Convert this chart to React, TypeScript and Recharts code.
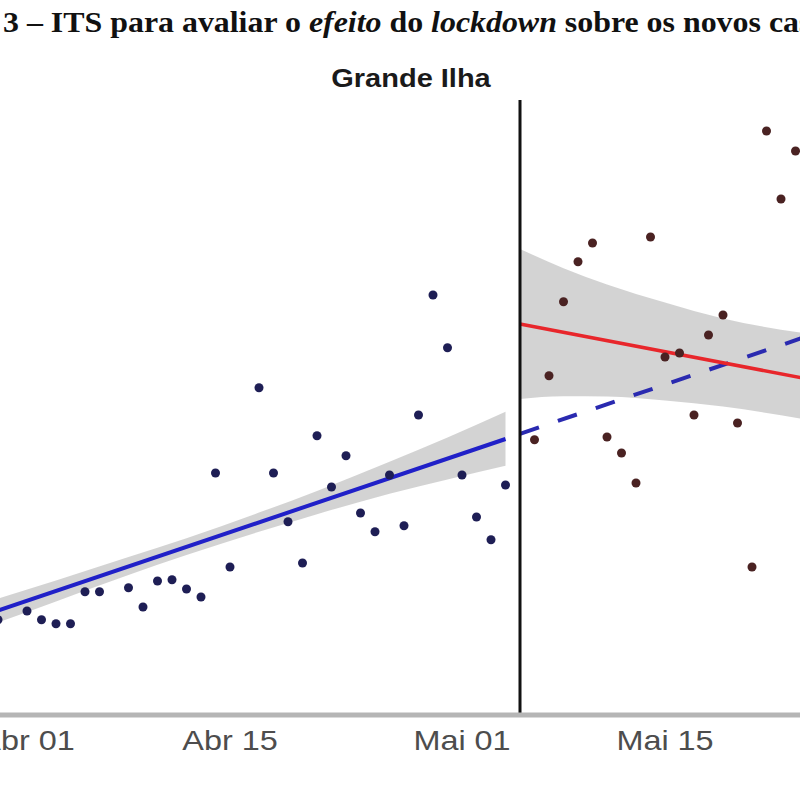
import React from "react";
import { ComposedChart, XAxis, YAxis, Scatter, Line, Area, ReferenceLine } from "recharts";

// Days counted from 1 April (0 = Abr 01)
const tickDays = [0, 14, 30, 44];
const tickLabels = ["Abr 01", "Abr 15", "Mai 01", "Mai 15"];

// Pre-lockdown observed new cases
const preDays = [-2, 0, 1, 2, 3, 4, 5, 7, 8, 9, 10, 11, 12, 13, 14, 16, 17, 18, 19, 20, 21, 22, 23, 24, 25, 26, 27, 28, 29, 30, 31, 32, 33];
const preCases = [23.8, 26, 23.8, 22.8, 22.8, 30.8, 30.8, 31.8, 27, 33.5, 33.8, 31.5, 29.5, 60.5, 37, 81.8, 60.5, 48.3, 38, 69.8, 57, 64.8, 50.5, 45.8, 60, 47.3, 75, 105, 91.8, 60, 49.5, 43.8, 57.5];

// Post-lockdown observed new cases
const postDays = [35, 36, 37, 38, 39, 40, 41, 42, 43, 44, 45, 46, 47, 48, 49, 50, 51, 52, 53];
const postCases = [68.8, 84.8, 103.3, 113.3, 118, 69.5, 65.5, 58, 119.5, 89.5, 90.5, 75, 95, 100, 73, 37, 146, 129, 141];

// Fitted lines
const preFitDays = [-2, 33];
const preFitValues = [26.1, 69];
const counterDays = [34, 53.5];
const counterValues = [70.3, 94.3];
const postFitDays = [34, 53.5];
const postFitValues = [97.75, 84.25];

// Confidence bands
const preBandDays = [-2, 2, 7, 11, 16, 20, 25, 29, 33];
const preBandLow = [23.1, 28.4, 35.0, 40.0, 45.8, 50.2, 55.3, 58.9, 62.3];
const preBandHigh = [29.1, 33.6, 39.5, 44.2, 50.6, 56.0, 63.3, 69.4, 75.8];
const postBandDays = [34, 37, 40, 44, 48, 53.5];
const postBandLow = [79.0, 79.7, 79.6, 78.6, 77.1, 74.0];
const postBandHigh = [116.5, 111.7, 107.6, 103.1, 99.1, 95.5];

const pts = (d: number[], v: number[]) => d.map((day, i) => ({ day, y: v[i] }));
const band = (d: number[], lo: number[], hi: number[]) => d.map((day, i) => ({ day, band: [lo[i], hi[i]] }));

const preTable = pts(preDays, preCases);
const postTable = pts(postDays, postCases);
const preFit = pts(preFitDays, preFitValues);
const counterFit = pts(counterDays, counterValues);
const postFit = pts(postFitDays, postFitValues);
const preBand = band(preBandDays, preBandLow, preBandHigh);
const postBand = band(postBandDays, postBandLow, postBandHigh);

const Tick = (props: any) => {
  const { x, y, payload } = props;
  const idx = tickDays.indexOf(payload.value);
  return (
    <g transform={`translate(${x},${y})`}>
      <text x={0} y={0} dy="0.71em" textAnchor="middle" fill="#4d4d4d" fontSize={27}
        fontFamily="Liberation Sans, Arial, sans-serif" transform="scale(1.2,1)">
        {idx >= 0 ? tickLabels[idx] : ""}
      </text>
    </g>
  );
};

const dot = (color: string) => (p: any) => <circle cx={p.cx} cy={p.cy} r={4.5} fill={color} />;

export default function App() {
  return (
    <div style={{ position: "absolute", left: 0, top: 0, width: 800, height: 800, background: "#fff", overflow: "hidden" }}>
      <ComposedChart width={800} height={800} margin={{ top: 100, right: 0, bottom: 0, left: 0 }}>
        <XAxis dataKey="day" type="number" domain={[-1.862, 53.31]} allowDataOverflow ticks={tickDays}
          height={85} tickLine={false} tickMargin={10} axisLine={{ stroke: "#b5b5b5", strokeWidth: 5 }} tick={<Tick />} />
        <YAxis dataKey="y" type="number" domain={[0, 153.75]} allowDataOverflow hide />
        <Area data={preBand} dataKey="band" type="monotone" stroke="none" fill="#c4c4c4" fillOpacity={0.75} isAnimationActive={false} />
        <Area data={postBand} dataKey="band" type="monotone" stroke="none" fill="#c4c4c4" fillOpacity={0.75} isAnimationActive={false} />
        <Scatter data={preTable} dataKey="y" shape={dot("#1e1e55")} isAnimationActive={false} />
        <Scatter data={postTable} dataKey="y" shape={dot("#4a2222")} isAnimationActive={false} />
        <Line data={preFit} dataKey="y" stroke="#2020c8" strokeWidth={4} dot={false} isAnimationActive={false} />
        <Line data={counterFit} dataKey="y" stroke="#2a2ab0" strokeWidth={4} strokeDasharray="20 20" dot={false} isAnimationActive={false} />
        <Line data={postFit} dataKey="y" stroke="#e8262b" strokeWidth={3.5} dot={false} isAnimationActive={false} />
        <ReferenceLine x={34} stroke="#111" strokeWidth={3} />
      </ComposedChart>
      <svg width={800} height={100} style={{ position: "absolute", left: 0, top: 0, pointerEvents: "none" }}>
        <text transform="translate(3,32) scale(1.1,1)" fontFamily="Liberation Serif, Times New Roman, serif"
          fontWeight="bold" fontSize={29} fill="#111">
          3 – ITS para avaliar o <tspan fontStyle="italic">efeito</tspan> do <tspan fontStyle="italic">lockdown</tspan> sobre os novos casos
        </text>
        <text transform="translate(411,87) scale(1.16,1)" textAnchor="middle" fontFamily="Liberation Sans, Arial, sans-serif"
          fontWeight="bold" fontSize={25} fill="#1a1a1a">
          Grande Ilha
        </text>
      </svg>
    </div>
  );
}
